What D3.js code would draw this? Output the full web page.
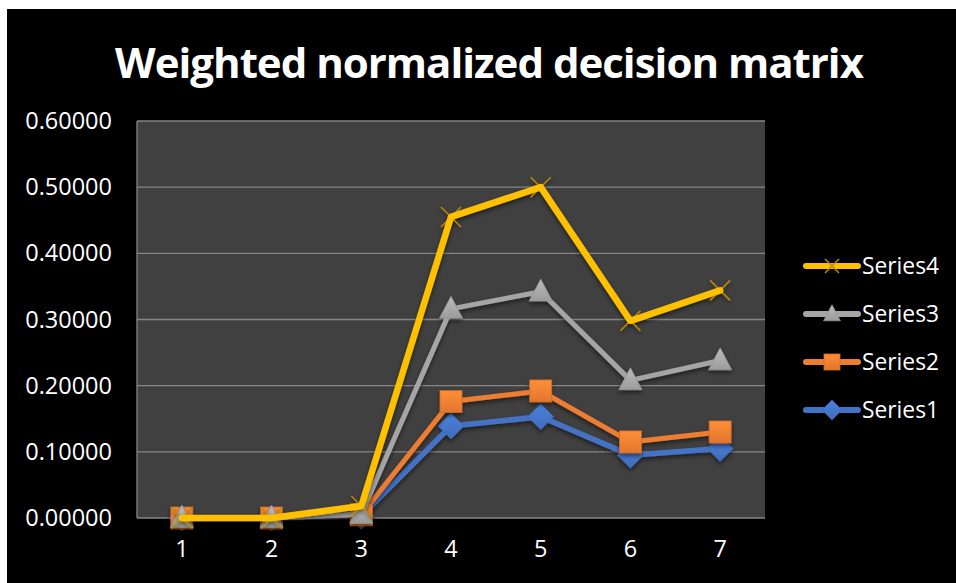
<!DOCTYPE html>
<html>
<head>
<meta charset="utf-8">
<script src="https://cdn.jsdelivr.net/npm/d3@7"></script>
<style>
  html, body { margin: 0; padding: 0; background: #ffffff; }
  svg { display: block; }
</style>
</head>
<body>
<svg id="chart" width="956" height="583"></svg>
<script>
// Chart data
const categories = ["1", "2", "3", "4", "5", "6", "7"];
const series1 = [0, 0, 0.003, 0.139, 0.153, 0.095, 0.105];
const series2 = [0, 0, 0.005, 0.176, 0.192, 0.115, 0.130];
const series3 = [0, 0, 0.006, 0.316, 0.342, 0.208, 0.238];
const series4 = [0, 0, 0.018, 0.455, 0.500, 0.298, 0.344];
const seriesNames = ["Series1", "Series2", "Series3", "Series4"];
const yTicks = [0, 0.1, 0.2, 0.3, 0.4, 0.5, 0.6];
const titleText = "Weighted normalized decision matrix";

const seriesList = [
  { name: seriesNames[0], values: series1, color: "#4472C4", marker: "diamond", width: 5.5 },
  { name: seriesNames[1], values: series2, color: "#ED7D31", marker: "square", width: 5 },
  { name: seriesNames[2], values: series3, color: "#A5A5A5", marker: "triangle", width: 5 },
  { name: seriesNames[3], values: series4, color: "#FFC000", marker: "x", width: 6.5 }
];

const svg = d3.select("#chart");
const W = 956, H = 583;
const font = "'Open Sans', 'Noto Sans', sans-serif";

// Background panel
svg.append("rect").attr("x", 7).attr("y", 9).attr("width", W - 7).attr("height", H - 9).attr("fill", "#000000");

const defs = svg.append("defs");
const shadow = defs.append("filter").attr("id", "shadow")
  .attr("x", "-50%").attr("y", "-50%").attr("width", "200%").attr("height", "200%");
shadow.append("feDropShadow").attr("dx", 0).attr("dy", 2.5).attr("stdDeviation", 2)
  .attr("flood-color", "#000").attr("flood-opacity", 0.55);

function markerGradient(id, color) {
  const g = defs.append("linearGradient").attr("id", id).attr("x1", 0).attr("y1", 0).attr("x2", 0).attr("y2", 1);
  g.append("stop").attr("offset", "0%").attr("stop-color", d3.color(color).brighter(0.35));
  g.append("stop").attr("offset", "100%").attr("stop-color", d3.color(color).darker(0.15));
}
seriesList.forEach((s, i) => markerGradient("grad" + i, s.color));

// Plot area
const plot = { left: 137, top: 121, right: 765, bottom: 518 };

const x = d3.scaleBand().domain(categories).range([plot.left, plot.right]);
const y = d3.scaleLinear().domain([0, 0.6]).range([plot.bottom, plot.top]);
const cx = c => x(c) + x.bandwidth() / 2;

svg.append("rect")
  .attr("x", plot.left).attr("y", plot.top)
  .attr("width", plot.right - plot.left).attr("height", plot.bottom - plot.top)
  .attr("fill", "#404040");

// Gridlines
svg.append("g").selectAll("line").data(yTicks).join("line")
  .attr("x1", plot.left).attr("x2", plot.right)
  .attr("y1", d => y(d)).attr("y2", d => y(d))
  .attr("stroke", "#868686").attr("stroke-width", 1.3);

// Left border of plot area
svg.append("line").attr("x1", plot.left).attr("x2", plot.left)
  .attr("y1", plot.top).attr("y2", plot.bottom)
  .attr("stroke", "#868686").attr("stroke-width", 1.3);

// Y axis
const yAxis = d3.axisLeft(y).tickValues(yTicks).tickFormat(d3.format(".5f")).tickSize(0).tickPadding(25);
const yg = svg.append("g").attr("transform", `translate(${plot.left},0)`).call(yAxis);
yg.select(".domain").remove();
yg.selectAll("text").attr("fill", "#ffffff").attr("font-family", font).attr("font-size", 23.5);

// X axis
const xAxis = d3.axisBottom(x).tickSize(0).tickPadding(22);
const xg = svg.append("g").attr("transform", `translate(0,${plot.bottom})`).call(xAxis);
xg.select(".domain").remove();
xg.selectAll("text").attr("fill", "#ffffff").attr("font-family", font).attr("font-size", 23.5);

// Marker shapes
function drawMarker(g, type, color, gradId, px, py, size) {
  if (type === "diamond") {
    const r = size * 0.62;
    g.append("path").attr("d", `M${px},${py - r}L${px + r},${py}L${px},${py + r}L${px - r},${py}Z`)
      .attr("fill", `url(#${gradId})`).attr("stroke", d3.color(color).darker(0.3)).attr("stroke-width", 0.8);
  } else if (type === "square") {
    const h = size / 2;
    g.append("rect").attr("x", px - h).attr("y", py - h).attr("width", size).attr("height", size)
      .attr("fill", `url(#${gradId})`).attr("stroke", d3.color(color).darker(0.4)).attr("stroke-width", 0.8);
  } else if (type === "triangle") {
    const h = size / 2;
    g.append("path").attr("d", `M${px},${py - h * 1.15}L${px + h * 1.05},${py + h * 0.85}L${px - h * 1.05},${py + h * 0.85}Z`)
      .attr("fill", `url(#${gradId})`).attr("stroke", d3.color(color).darker(0.3)).attr("stroke-width", 0.8);
  } else if (type === "x") {
    const h = size / 2;
    g.append("path").attr("d", `M${px - h},${py - h}L${px + h},${py + h}M${px - h},${py + h}L${px + h},${py - h}`)
      .attr("stroke", "#B8890A").attr("stroke-width", 1.5).attr("fill", "none");
  }
}

const lineGen = d3.line().x((d, i) => cx(categories[i])).y(d => y(d));

seriesList.forEach((s, si) => {
  const g = svg.append("g").attr("class", "series").attr("filter", "url(#shadow)");
  const markers = g.append("g");
  if (s.marker === "x") {
    s.values.forEach((v, i) => drawMarker(markers, s.marker, s.color, "grad" + si, cx(categories[i]), y(v), 20));
    g.append("path").datum(s.values).attr("d", lineGen)
      .attr("fill", "none").attr("stroke", s.color).attr("stroke-width", s.width)
      .attr("stroke-linejoin", "round").attr("stroke-linecap", "round");
  } else {
    markers.append("path").datum(s.values).attr("d", lineGen)
      .attr("fill", "none").attr("stroke", s.color).attr("stroke-width", s.width)
      .attr("stroke-linejoin", "round").attr("stroke-linecap", "round");
    const size = s.marker === "square" ? 22 : s.marker === "triangle" ? 22 : 21;
    s.values.forEach((v, i) => drawMarker(markers, s.marker, s.color, "grad" + si, cx(categories[i]), y(v), size));
  }
});

// Legend (top to bottom: Series4 ... Series1)
const legendY = [266, 314, 362, 410];
const legendItems = seriesList.slice().reverse();
legendItems.forEach((s, i) => {
  const si = seriesList.indexOf(s);
  const g = svg.append("g");
  const ly = legendY[i];
  g.append("line").attr("x1", 806).attr("x2", 858).attr("y1", ly).attr("y2", ly)
    .attr("stroke", s.color).attr("stroke-width", 6).attr("stroke-linecap", "round");
  drawMarker(g, s.marker, s.color, "grad" + si, 832, ly, s.marker === "x" ? 14 : 16);
  g.append("text").attr("x", 862).attr("y", ly).attr("dy", "0.36em")
    .attr("fill", "#ffffff").attr("font-family", font).attr("font-size", 22.8)
    .text(s.name);
});

// Title
svg.append("text").attr("x", 489).attr("y", 78).attr("text-anchor", "middle")
  .attr("fill", "#ffffff").attr("font-family", font).attr("font-weight", "bold")
  .attr("font-size", 42).attr("letter-spacing", -1.0)
  .text(titleText);
</script>
</body>
</html>
